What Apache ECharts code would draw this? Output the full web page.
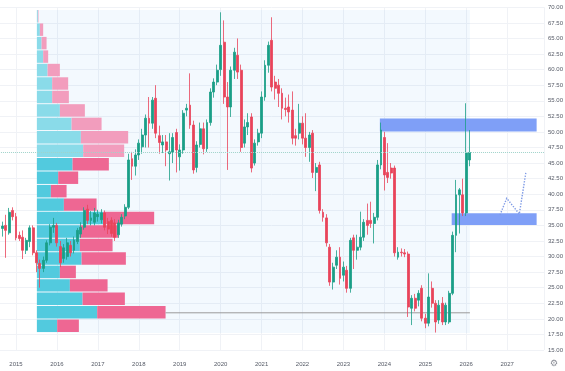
<!DOCTYPE html>
<html><head><meta charset="utf-8">
<script src="https://cdn.jsdelivr.net/npm/echarts@6/dist/echarts.min.js"></script>
<style>html,body{margin:0;padding:0;background:#fff}#c{width:565px;height:371px}</style>
</head><body><div id="c"></div>
<script>
// ---- monthly candles (Sep 2014 – Feb 2026) ----
const months = [
 '2014-09','2014-10','2014-11','2014-12',
 '2015-01','2015-02','2015-03','2015-04','2015-05','2015-06','2015-07','2015-08','2015-09','2015-10','2015-11','2015-12',
 '2016-01','2016-02','2016-03','2016-04','2016-05','2016-06','2016-07','2016-08','2016-09','2016-10','2016-11','2016-12',
 '2017-01','2017-02','2017-03','2017-04','2017-05','2017-06','2017-07','2017-08','2017-09','2017-10','2017-11','2017-12',
 '2018-01','2018-02','2018-03','2018-04','2018-05','2018-06','2018-07','2018-08','2018-09','2018-10','2018-11','2018-12',
 '2019-01','2019-02','2019-03','2019-04','2019-05','2019-06','2019-07','2019-08','2019-09','2019-10','2019-11','2019-12',
 '2020-01','2020-02','2020-03','2020-04','2020-05','2020-06','2020-07','2020-08','2020-09','2020-10','2020-11','2020-12',
 '2021-01','2021-02','2021-03','2021-04','2021-05','2021-06','2021-07','2021-08','2021-09','2021-10','2021-11','2021-12',
 '2022-01','2022-02','2022-03','2022-04','2022-05','2022-06','2022-07','2022-08','2022-09','2022-10','2022-11','2022-12',
 '2023-01','2023-02','2023-03','2023-04','2023-05','2023-06','2023-07','2023-08','2023-09','2023-10','2023-11','2023-12',
 '2024-01','2024-02','2024-03','2024-04','2024-05','2024-06','2024-07','2024-08','2024-09','2024-10','2024-11','2024-12',
 '2025-01','2025-02','2025-03','2025-04','2025-05','2025-06','2025-07','2025-08','2025-09','2025-10','2025-11','2025-12',
 '2026-01','2026-02'
];
const opens = [
 34.5,35.0,33.8,37.4,
 36.4,33.4,33.1,31.0,32.4,34.6,30.6,28.9,28.1,29.4,32.2,34.7,
 35.0,31.6,29.7,30.0,31.8,31.0,32.4,33.6,34.7,37.6,35.8,35.5,
 36.4,35.9,37.0,35.6,35.8,35.4,33.5,35.2,36.5,37.9,45.7,44.5,
 46.3,47.6,49.5,52.2,51.4,55.4,49.4,47.9,48.4,46.5,46.7,49.9,
 46.0,47.1,53.5,54.3,51.1,44.3,48.0,50.5,47.3,51.5,56.4,58.0,
 60.0,64.4,55.6,54.0,59.9,62.3,59.9,48.2,50.8,52.4,45.0,48.4,
 49.8,55.6,60.7,64.7,58.0,57.5,56.2,53.8,54.0,53.5,49.4,49.8,
 51.4,49.0,47.5,49.8,43.5,44.7,37.1,36.2,31.5,25.9,28.6,29.9,
 27.0,27.8,24.9,33.0,31.0,31.5,33.1,35.8,35.8,35.3,36.3,44.7,
 49.1,43.5,44.2,44.2,29.9,30.7,30.6,30.4,21.7,23.3,23.0,24.9,
 20.1,19.3,24.9,22.5,19.8,22.5,19.5,19.5,24.1,33.4,39.9,39.9,
 37.0,45.5
];
const closes = [
 34.9,34.2,37.1,36.4,
 33.0,32.9,31.0,32.6,34.6,30.6,29.0,28.1,29.4,32.2,34.7,35.0,
 32.2,29.0,31.4,32.2,30.6,32.6,34.2,34.7,37.4,35.8,36.2,37.0,
 36.8,37.0,34.7,34.4,33.7,33.1,35.4,36.3,37.9,45.5,44.5,46.3,
 48.2,49.5,52.2,51.4,55.1,49.8,48.3,48.4,47.1,46.8,49.1,47.1,
 47.1,53.0,53.8,51.1,43.9,47.9,50.5,47.3,51.5,56.4,58.0,59.9,
 63.9,55.6,54.0,59.9,62.8,59.6,47.5,50.8,51.5,44.2,48.2,49.8,
 55.6,60.7,63.9,57.2,57.0,56.2,53.8,53.6,53.2,49.0,49.0,51.4,
 49.0,47.5,49.5,43.5,44.3,37.4,36.3,32.2,25.9,28.3,29.9,26.5,
 28.3,24.9,32.6,31.0,31.5,33.1,35.5,35.0,35.3,36.3,44.7,50.3,
 43.1,42.7,43.4,30.6,30.7,30.6,30.4,21.9,23.3,21.7,24.1,20.1,
 19.3,23.5,22.5,19.5,22.2,19.5,22.2,24.1,33.4,39.9,40.7,37.0,
 46.6,46.7
];
const lows = [
 33.2,29.8,33.5,35.8,
 32.6,32.5,29.6,30.4,31.5,30.2,27.5,25.0,27.5,29.0,31.8,33.8,
 31.6,28.3,29.0,29.5,30.0,30.5,32.0,33.0,34.3,35.2,35.0,35.0,
 35.6,35.3,34.2,33.6,33.2,32.5,33.0,34.8,36.0,37.6,42.3,43.0,
 45.5,46.5,47.5,47.5,50.5,49.0,46.5,46.6,44.5,42.2,45.0,43.5,
 43.8,46.5,52.5,50.5,43.3,43.5,47.5,46.4,46.8,51.0,55.5,57.5,
 59.0,54.5,43.9,52.4,58.5,58.5,46.8,47.5,49.5,43.5,44.6,47.8,
 49.0,55.0,59.5,56.5,55.2,54.0,52.0,52.5,51.5,48.0,47.8,48.8,
 48.0,46.0,45.2,42.6,40.5,36.9,35.6,31.6,25.3,24.7,28.0,25.5,
 26.0,24.2,24.2,28.0,29.5,31.0,32.5,33.5,34.6,32.1,35.8,44.0,
 40.6,41.8,42.5,30.0,29.5,30.0,29.9,20.3,19.0,21.2,22.0,19.6,
 18.5,18.8,21.8,17.8,19.2,19.0,19.0,19.2,23.8,30.7,33.7,36.5,
 36.5,44.5
];
const highs = [
 35.6,36.7,37.8,37.9,
 37.0,34.0,34.2,33.0,35.0,35.0,31.0,29.5,30.0,32.6,35.2,36.2,
 35.4,32.5,32.0,33.0,32.5,33.2,34.6,35.5,37.9,38.3,37.3,37.8,
 37.5,37.6,37.4,36.2,36.3,36.0,35.9,36.8,38.4,46.5,46.8,47.2,
 48.8,50.5,52.8,55.6,55.6,57.5,51.0,49.5,49.5,49.8,49.8,50.5,
 48.0,53.5,54.5,59.4,51.8,48.5,51.5,51.5,52.0,57.0,58.6,60.8,
 69.2,67.9,58.0,60.5,63.5,65.0,60.8,52.0,53.0,53.0,48.8,50.5,
 56.5,61.5,64.5,68.4,59.0,58.5,57.0,55.5,56.0,56.5,50.5,54.5,
 52.5,53.0,50.0,50.3,45.0,45.2,37.6,36.8,32.0,29.0,31.0,31.5,
 29.2,28.5,33.0,33.5,33.5,37.2,36.0,38.5,38.8,37.0,45.5,51.5,
 50.0,48.2,45.0,44.6,31.5,31.3,31.2,30.8,23.8,24.0,24.6,25.4,
 20.8,27.3,26.0,23.0,23.0,23.5,22.6,24.5,34.0,42.3,41.0,42.5,
 54.6,50.3
];

// ---- visible-range volume profile (rows listed from top to bottom) ----
const profileTop = 69.57, profileBottom = 17.73;
const profileStart = 2015.51, profileEnd = 2026.09;
const upVolume   = [1.0,3.0,4.7,6.3,10.7,15.3,15.3,23.0,34.7,44.0,46.3,35.7,21.3,14.0,27.0,66.3,43.0,43.0,44.7,23.0,33.0,45.7,60.3,20.3];
const downVolume = [0.6,3.3,5.0,5.0,12.3,16.0,16.7,25.0,30.0,47.3,41.0,36.3,20.0,15.7,32.7,51.0,38.3,32.7,44.3,16.0,37.7,42.3,68.4,21.7];
const valueAreaHigh = 45.81, valueAreaLow = 17.73;

// ---- drawings ----
const zoneUpper = {from: 2023.89, to: 2027.72, low: 50.05, high: 52.17};
const zoneLower = {from: 2025.645, to: 2027.72, low: 35.05, high: 36.94};
const projection = [[2026.825, 36.67], [2026.989, 39.35], [2027.297, 36.83], [2027.46, 43.62]];

// ---- build ----
const toYear = s => { const [y, m] = s.split('-').map(Number); return y + (m - 1) / 12; };
const candles = months.map((m, i) => [toYear(m), opens[i], closes[i], lows[i], highs[i]]);
const lastClose = closes[closes.length - 1];

const W = 565, H = 371;
const grid = {left: -24.93, right: 21, top: 7.3, bottom: 21, outerBoundsMode: 'none', containLabel: false};
const xMin = 2014, xMax = 2027.9;
const gridW = W - grid.left - grid.right;
const pxPerYear = gridW / (xMax - xMin);
const volMin = -(profileStart - xMin) * pxPerYear;
const volMax = (xMax - profileStart) * pxPerYear;
const volEnd = (profileEnd - profileStart) * pxPerYear;

const totals = upVolume.map((u, i) => u + downVolume[i]);
const pocIndex = totals.indexOf(Math.max(...totals));
const rowH = (profileTop - profileBottom) / upVolume.length;

const labelStyle = {color: '#555a66', fontSize: 6, fontFamily: 'Liberation Sans'};

const chart = echarts.init(document.getElementById('c'), null, {renderer: 'canvas'});
chart.setOption({
  animation: false,
  backgroundColor: '#ffffff',
  grid: grid,
  xAxis: [{
    type: 'value', min: xMin, max: xMax, interval: 1,
    axisLine: {show: false}, axisTick: {show: false},
    splitLine: {show: true, lineStyle: {color: '#f0f2f6', width: 1}},
    axisLabel: Object.assign({margin: 11, formatter: v => (Number.isInteger(v) && v > xMin) ? String(v) : ''}, labelStyle)
  }, {
    type: 'value', min: volMin, max: volMax, show: false
  }],
  yAxis: [{
    type: 'value', position: 'right', min: 15, max: 70, interval: 2.5,
    axisLine: {show: false}, axisTick: {show: false},
    splitLine: {show: true, lineStyle: {color: '#f0f2f6', width: 1}},
    axisLabel: Object.assign({margin: 4, formatter: v => v.toFixed(2)}, labelStyle)
  }],
  series: [
    { // range background
      type: 'line', data: [], z: 0, silent: true,
      markArea: {
        silent: true,
        data: [
          [{coord: [profileStart, profileTop], itemStyle: {color: 'rgba(33,150,243,0.055)'}}, {coord: [profileEnd, profileBottom]}]
        ]
      }
    },
    { // volume profile
      type: 'custom', xAxisIndex: 1, yAxisIndex: 0, z: 1, silent: true,
      data: upVolume.map((u, i) => [u, downVolume[i]]),
      renderItem: function (params, api) {
        const i = params.dataIndex;
        const hi = profileTop - i * rowH, lo = hi - rowH;
        const mid = (hi + lo) / 2;
        const inVA = mid <= valueAreaHigh && mid >= valueAreaLow;
        const p0 = api.coord([0, hi]);
        const p1 = api.coord([upVolume[i], lo]);
        const p2 = api.coord([upVolume[i] + downVolume[i], lo]);
        const h = Math.max(p1[1] - p0[1] - 1, 0.5);
        const children = [
          {type: 'rect', shape: {x: p0[0], y: p0[1], width: p1[0] - p0[0], height: h},
           style: {fill: inVA ? '#52cade' : '#8adbe9'}},
          {type: 'rect', shape: {x: p1[0], y: p0[1], width: p2[0] - p1[0], height: h},
           style: {fill: inVA ? '#ee6793' : '#f29dbd'}}
        ];
        if (i === pocIndex) {
          const a = api.coord([upVolume[i] + downVolume[i], mid]);
          const b = api.coord([volEnd, mid]);
          children.push({type: 'line', shape: {x1: a[0], y1: a[1], x2: b[0], y2: b[1]},
            style: {stroke: '#9a9a9a', lineWidth: 1}});
        }
        return {type: 'group', children: children};
      }
    },
    { // zones
      type: 'line', data: [], z: 2, silent: true,
      markArea: {
        silent: true,
        itemStyle: {color: '#7f9ff7'},
        data: [
          [{coord: [zoneUpper.from, zoneUpper.high]}, {coord: [zoneUpper.to, zoneUpper.low]}],
          [{coord: [zoneLower.from, zoneLower.high]}, {coord: [zoneLower.to, zoneLower.low]}]
        ]
      }
    },
    {
      type: 'candlestick', z: 3,
      encode: {x: 0, y: [1, 2, 3, 4]},
      data: candles,
      barWidth: 2.4,
      itemStyle: {color: '#1a9e87', color0: '#e8445a', borderColor: '#1a9e87', borderColor0: '#e8445a', borderWidth: 0.8},
      markLine: {
        silent: true, symbol: 'none', label: {show: false},
        lineStyle: {type: 'dotted', color: '#9fd3ca', width: 1},
        data: [{yAxis: lastClose}]
      }
    },
    {
      type: 'lines', coordinateSystem: 'cartesian2d', polyline: true, z: 4, silent: true,
      symbol: ['none', 'arrow'], symbolSize: 5,
      lineStyle: {type: 'dotted', color: '#7f9be6', width: 1.4, opacity: 1},
      data: [{coords: projection}]
    }
  ],
  graphic: [{
    type: 'text', left: 550, top: 359,
    style: {text: '⚙', fontSize: 9, fill: '#8a8d96', fontFamily: 'DejaVu Sans'}
  }]
});
</script>
</body></html>
